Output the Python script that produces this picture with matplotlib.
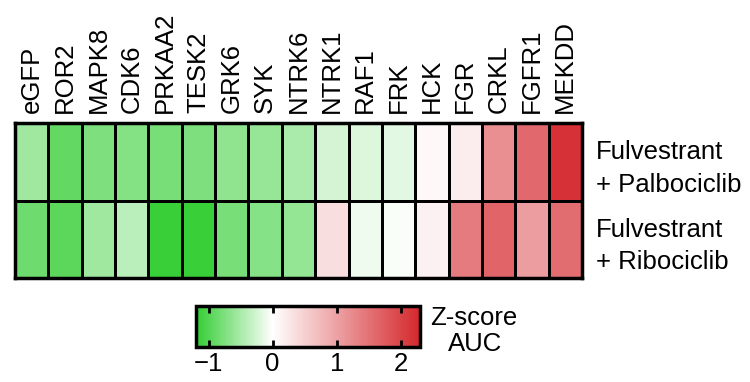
import numpy as np
import matplotlib
matplotlib.use("Agg")
import matplotlib.pyplot as plt
from matplotlib.colors import LinearSegmentedColormap, Normalize

plt.rcParams['font.family'] = ['Liberation Sans', 'DejaVu Sans']

genes = ["eGFP", "ROR2", "MAPK8", "CDK6", "PRKAA2", "TESK2", "GRK6", "SYK", "NTRK6",
         "NTRK1", "RAF1", "FRK", "HCK", "FGR", "CRKL", "FGFR1", "MEKDD"]
treatments = ["Fulvestrant\n+ Palbociclib", "Fulvestrant\n+ Ribociclib"]
palbociclib = [-0.55, -0.9, -0.75, -0.72, -0.78, -0.75, -0.65, -0.6, -0.5,
               -0.25, -0.2, -0.17, 0.08, 0.2, 1.2, 1.6, 2.2]
ribociclib = [-0.85, -0.95, -0.55, -0.4, -1.15, -1.15, -0.78, -0.7, -0.62,
              0.35, -0.1, -0.03, 0.15, 1.4, 1.65, 1.05, 1.55]
cbar_ticks = [-1, 0, 1, 2]

FS = 18.5

vmin, vmax = -1.2, 2.3
zpos = (0 - vmin) / (vmax - vmin)
cmap = LinearSegmentedColormap.from_list(
    "gwr", [(0.0, (50/255, 205/255, 50/255)), (zpos, (1, 1, 1)), (1.0, (212/255, 40/255, 45/255))])
norm = Normalize(vmin=vmin, vmax=vmax)

data = np.array([palbociclib, ribociclib])

fig = plt.figure(figsize=(7.5, 3.82), dpi=100)
ax = fig.add_axes([0.02, 0.272, 0.756, 0.406])
ax.pcolormesh(data, cmap=cmap, norm=norm, edgecolors='black', linewidth=1.8)
ax.set_xlim(0, len(genes))
ax.set_ylim(len(treatments), 0)
ax.set_xticks(np.arange(len(genes)) + 0.5)
ax.set_xticklabels(genes, rotation=90, fontsize=FS)
ax.xaxis.tick_top()
ax.tick_params(axis='x', length=0, pad=7)
ax.set_yticks(np.arange(len(treatments)) + 0.5)
ax.set_yticklabels(treatments, fontsize=FS, ha='left', linespacing=1.45)
ax.yaxis.tick_right()
ax.tick_params(axis='y', length=0, pad=10)
for s in ax.spines.values():
    s.set_linewidth(2.5)

cax = fig.add_axes([0.261, 0.092, 0.299, 0.107])
cb = fig.colorbar(plt.cm.ScalarMappable(norm=norm, cmap=cmap), cax=cax, orientation='horizontal')
cb.set_ticks(cbar_ticks)
cb.set_ticklabels(["\u22121", "0", "1", "2"])
cax.tick_params(axis='x', direction='in', length=5, width=2, top=True, bottom=True,
                labelsize=FS, pad=4)
cb.outline.set_linewidth(2.5)
fig.text(0.574, 0.168, "Z-score", fontsize=FS, ha='left', va='center')
fig.text(0.633, 0.1, "AUC", fontsize=FS, ha='center', va='center')

fig.savefig("out.png", dpi=100)
